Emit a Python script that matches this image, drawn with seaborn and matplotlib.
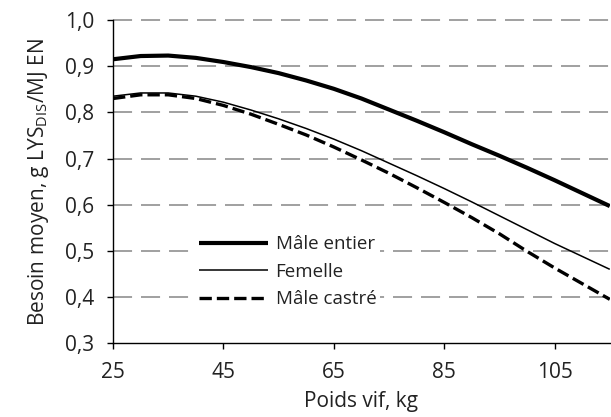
import matplotlib
matplotlib.use("Agg")
import matplotlib.pyplot as plt
import seaborn as sns
import pandas as pd

poids = [25, 30, 35, 40, 45, 50, 55, 60, 65, 70, 75, 80, 85, 90, 95, 100, 105, 110, 115]
male_entier = [0.915, 0.922, 0.923, 0.918, 0.909, 0.898, 0.885, 0.869, 0.851, 0.830, 0.806, 0.782,
               0.757, 0.731, 0.706, 0.680, 0.653, 0.625, 0.597]
femelle = [0.835, 0.842, 0.842, 0.835, 0.822, 0.805, 0.786, 0.765, 0.742, 0.717, 0.690, 0.663,
           0.635, 0.606, 0.576, 0.546, 0.516, 0.488, 0.460]
male_castre = [0.830, 0.838, 0.838, 0.830, 0.815, 0.796, 0.774, 0.751, 0.725, 0.697, 0.668, 0.637,
               0.605, 0.572, 0.537, 0.499, 0.463, 0.429, 0.395]
series_names = ["Mâle entier", "Femelle", "Mâle castré"]
x_ticks = [25, 45, 65, 85, 105]
y_ticks = [0.3, 0.4, 0.5, 0.6, 0.7, 0.8, 0.9, 1.0]
y_ticklabels = ["0,3", "0,4", "0,5", "0,6", "0,7", "0,8", "0,9", "1,0"]

sns.set_theme(style="white")
plt.rcParams['font.family'] = ['Open Sans', 'DejaVu Sans']
plt.rcParams['mathtext.fontset'] = 'custom'
plt.rcParams['mathtext.rm'] = 'Open Sans'
plt.rcParams['mathtext.it'] = 'Open Sans'

fig = plt.figure(figsize=(6.11, 4.17), dpi=100)
ax = fig.add_axes([0.185, 0.177, 0.813, 0.775])

styles = [
    dict(lw=3.0, ls="-"),
    dict(lw=1.1, ls="-"),
    dict(lw=2.4, ls=(0, (3.7, 1.5))),
]
for name, vals, st in zip(series_names, [male_entier, femelle, male_castre], styles):
    df = pd.DataFrame({"Poids": poids, "Besoin": vals})
    sns.lineplot(data=df, x="Poids", y="Besoin", ax=ax, color="black",
                 linewidth=st["lw"], linestyle=st["ls"], label=name,
                 solid_capstyle="butt", dash_capstyle="butt")

ax.set_xlim(25, 115)
ax.set_ylim(0.3, 1.0)
ax.set_xticks(x_ticks)
ax.set_xticklabels([str(t) for t in x_ticks])
ax.set_yticks(y_ticks)
ax.set_yticklabels(y_ticklabels)

for yv in y_ticks[1:]:
    ax.axhline(yv, color="#a0a0a0", lw=1.4, ls=(0, (9.8, 4.6)), zorder=0.5, clip_on=False)

for s in ["top", "right"]:
    ax.spines[s].set_visible(False)
for s in ["left", "bottom"]:
    ax.spines[s].set_color("black")
    ax.spines[s].set_linewidth(1.0)

ax.tick_params(axis="both", direction="out", length=4.5, width=1, color="black",
               labelsize=15, labelcolor="#222222", pad=9,
               bottom=True, left=True)

ax.set_xlabel("Poids vif, kg", fontsize=15, color="#222222", labelpad=6)
ax.set_ylabel(r"Besoin moyen, g LYS$_{\mathrm{DIS}}$/MJ EN", fontsize=15, color="#222222", labelpad=10)

leg = ax.legend(loc="upper left", bbox_to_anchor=(0.165, 0.345), frameon=True,
                facecolor="white", edgecolor="none", framealpha=1, fancybox=False,
                fontsize=13.5, handlelength=3.7, handletextpad=0.4, labelspacing=0.5,
                borderpad=0.2, borderaxespad=0)
for t in leg.get_texts():
    t.set_color("#222222")

fig.savefig("out.png", dpi=100)
